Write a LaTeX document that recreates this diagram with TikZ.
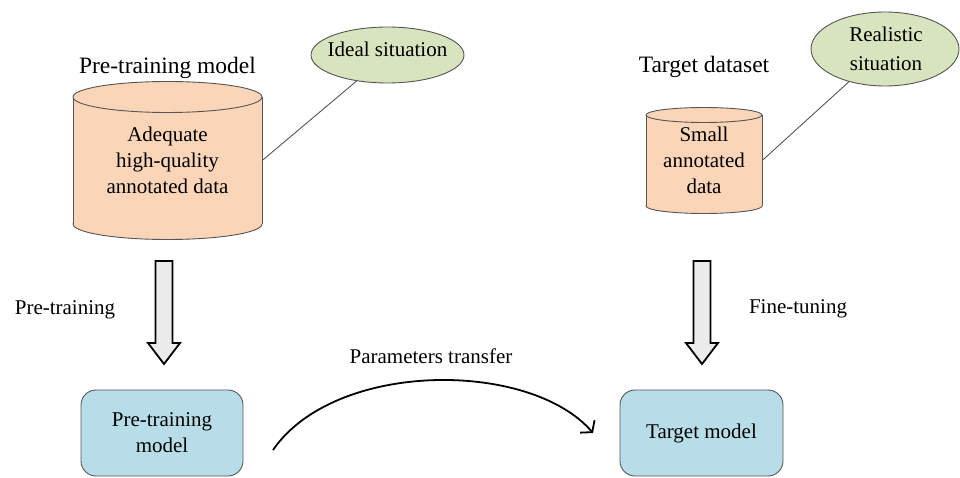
\documentclass[tikz,border=0pt]{standalone}
\usepackage{fontspec}
\setmainfont{Liberation Serif}
\usetikzlibrary{shapes.geometric,arrows.meta}
\definecolor{peach}{HTML}{FBD5B8}
\definecolor{sage}{HTML}{D7E4BD}
\definecolor{aqua}{HTML}{B7DEE8}
\definecolor{edge}{HTML}{555555}
\definecolor{shaftgray}{HTML}{EBEBEB}

% database cylinder: centre x, x radius, top y, bottom y, y radius
\newcommand\dbcyl[5]{%
  \filldraw[cylface] (#1,#4) ellipse[x radius=#2, y radius=#5];
  \fill[peach] ({#1-#2},#3) rectangle ({#1+#2},#4);
  \draw[edge, line width=0.9] ({#1-#2},#3) -- ({#1-#2},#4) ({#1+#2},#3) -- ({#1+#2},#4);
  \filldraw[cylface] (#1,#3) ellipse[x radius=#2, y radius=#5];
}

\begin{document}
\begin{tikzpicture}[x=1pt, y=-1pt,
  body/.style={font=\fontsize{21}{26}\selectfont},
  title/.style={font=\fontsize{23.5}{28}\selectfont},
  cylface/.style={fill=peach, draw=edge, line width=0.9},
  cyltext/.style={body, align=center, inner sep=0pt},
  bubble/.style={ellipse, draw=edge, fill=sage, line width=0.9, inner sep=0pt},
  modelbox/.style={rectangle, rounded corners=15, draw=edge, fill=aqua,
    line width=0.9, body, align=center, inner sep=0pt},
  lead/.style={draw=edge, line width=0.9},
  blockarrow/.style={draw=black, fill=shaftgray, line width=1.8, line join=miter},
  transfer/.style={line width=1.8, -{Straight Barb[length=7.5pt, width=19pt]}}]

\useasboundingbox (0,0) rectangle (960,478);

% ---- data stores ----
\dbcyl{167.5}{94.5}{97}{224}{15.5}
\node[cyltext, minimum width=189, minimum height=127] (db1) at (167.5,160.5)
  {Adequate\\high-quality\\annotated data};
\dbcyl{704}{58}{115}{206}{7.5}
\node[cyltext, minimum width=116, minimum height=91] (db2) at (704,160.5)
  {Small\\annotated\\data};

\node[title, anchor=base] (t1) at (167.5,74) {Pre-training model};
\node[title, anchor=base] (t2) at (704,73) {Target dataset};

% ---- situation bubbles ----
\node[bubble, minimum width=153, minimum height=56] (ideal) at (387.5,55) {};
\node[body, anchor=base, inner sep=0pt] (idealtxt) at (387.5,57) {Ideal situation};
\node[bubble, minimum width=148, minimum height=74] (real) at (885,49) {};
\node[body, align=center, inner sep=0pt, font=\fontsize{21}{29}\selectfont]
  (realtxt) at (886,48.5) {Realistic\\situation};

\draw[lead] (db1.east) -- (ideal);
\draw[lead] (db2.east) -- (real);

% ---- block arrows ----
\coordinate (pa) at (164,261);
\coordinate (fa) at (702,261);
\foreach \c in {pa,fa}
  \draw[blockarrow] (\c) ++(-8.5,0) -- ++(0,82) -- ++(-7.5,0) -- ++(16,21)
    -- ++(16,-21) -- ++(-7.5,0) -- ++(0,-82) -- cycle;
\node[body, anchor=base] (lpre) at (65,314) {Pre-training};
\node[body, anchor=base] (lfine) at (798,313) {Fine-tuning};

% ---- models ----
\node[modelbox, minimum width=162, minimum height=86] (pm) at (162,433)
  {Pre-training\\model};
\node[modelbox, minimum width=163, minimum height=86] (tm) at (701.5,433)
  {Target model};

% ---- parameter transfer ----
\coordinate (ts) at (273,450);
\coordinate (te) at (593,433);
\draw[transfer] (ts) .. controls (335,360) and (530,360) .. (te);
\node[body, anchor=base] (ltr) at (431,363) {Parameters transfer};

\end{tikzpicture}
\end{document}
